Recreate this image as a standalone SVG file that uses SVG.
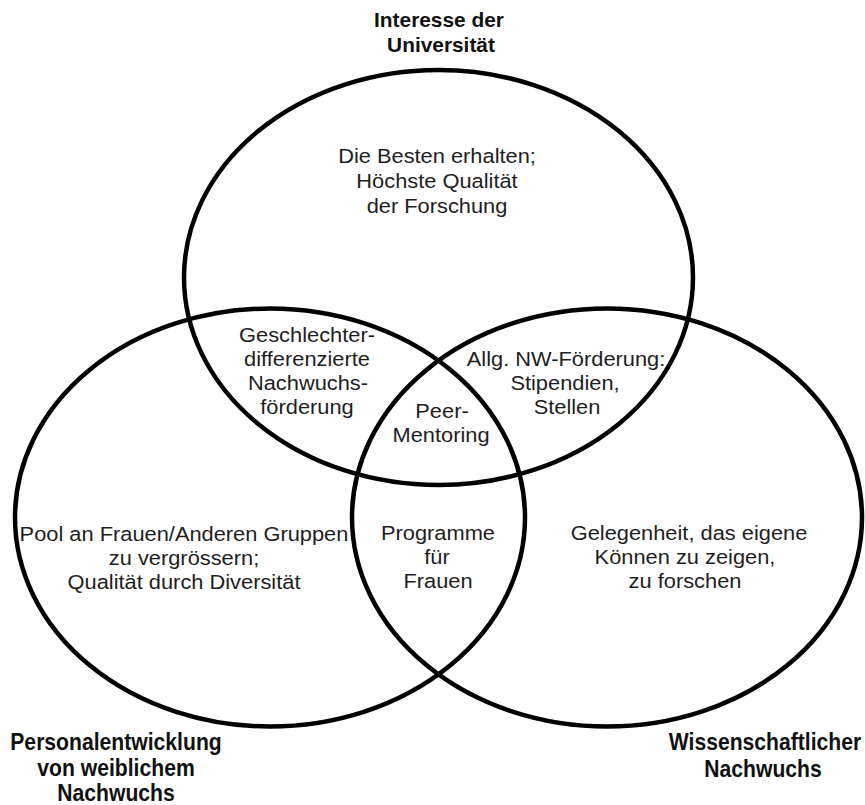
<svg xmlns="http://www.w3.org/2000/svg" width="865" height="805" viewBox="0 0 865 805">
<style>
.ring{fill:none;stroke:#000;stroke-width:4.5}
.t{font-family:"Liberation Sans",Arial,sans-serif;font-size:19.5px;fill:#1e1e1e;text-anchor:middle}
.h{font-family:"Liberation Sans",Arial,sans-serif;font-size:19.5px;font-weight:bold;fill:#111;text-anchor:middle}
.hb{font-family:"Liberation Sans",Arial,sans-serif;font-size:23px;font-weight:bold;fill:#111;text-anchor:middle}
</style>
<rect width="865" height="805" fill="#fff"/>
<g id="universitaet">
<ellipse class="ring" cx="438.5" cy="277.5" rx="254.5" ry="207.5"/>
<text class="h" transform="translate(439,27) scale(1.07,1)">Interesse der</text>
<text class="h" transform="translate(441,52) scale(1.07,1)">Universität</text>
<text class="t" transform="translate(437,163) scale(1.12,1)">Die Besten erhalten;</text>
<text class="t" transform="translate(437,188) scale(1.12,1)">Höchste Qualität</text>
<text class="t" transform="translate(437,213) scale(1.12,1)">der Forschung</text>
</g>
<g id="personalentwicklung">
<ellipse class="ring" cx="270" cy="517.5" rx="255" ry="209"/>
<text class="t" transform="translate(184,541) scale(1.12,1)">Pool an Frauen/Anderen Gruppen</text>
<text class="t" transform="translate(184,565) scale(1.12,1)">zu vergrössern;</text>
<text class="t" transform="translate(184,589) scale(1.12,1)">Qualität durch Diversität</text>
<text class="hb" transform="translate(116,750) scale(0.92,1)">Personalentwicklung</text>
<text class="hb" transform="translate(116,776) scale(0.92,1)">von weiblichem</text>
<text class="hb" transform="translate(116,801) scale(0.92,1)">Nachwuchs</text>
</g>
<g id="nachwuchs">
<ellipse class="ring" cx="607" cy="517.5" rx="255" ry="209"/>
<text class="t" transform="translate(689,540) scale(1.12,1)">Gelegenheit, das eigene</text>
<text class="t" transform="translate(685,564) scale(1.12,1)">Können zu zeigen,</text>
<text class="t" transform="translate(685,588) scale(1.12,1)">zu forschen</text>
<text class="hb" transform="translate(765,750) scale(0.92,1)">Wissenschaftlicher</text>
<text class="hb" transform="translate(763,777) scale(0.92,1)">Nachwuchs</text>
</g>
<g id="geschlechterdifferenziert">
<text class="t" transform="translate(307,342) scale(1.12,1)">Geschlechter-</text>
<text class="t" transform="translate(307,366) scale(1.12,1)">differenzierte</text>
<text class="t" transform="translate(308,390) scale(1.12,1)">Nachwuchs-</text>
<text class="t" transform="translate(307,414) scale(1.12,1)">förderung</text>
</g>
<g id="nw-foerderung">
<text class="t" transform="translate(566,366) scale(1.12,1)">Allg. NW-Förderung:</text>
<text class="t" transform="translate(565,390) scale(1.12,1)">Stipendien,</text>
<text class="t" transform="translate(567,414) scale(1.12,1)">Stellen</text>
</g>
<g id="peer-mentoring">
<text class="t" transform="translate(442,418) scale(1.12,1)">Peer-</text>
<text class="t" transform="translate(441,442) scale(1.12,1)">Mentoring</text>
</g>
<g id="programme">
<text class="t" transform="translate(438,540) scale(1.12,1)">Programme</text>
<text class="t" transform="translate(437,564) scale(1.12,1)">für</text>
<text class="t" transform="translate(438,588) scale(1.12,1)">Frauen</text>
</g>
</svg>
